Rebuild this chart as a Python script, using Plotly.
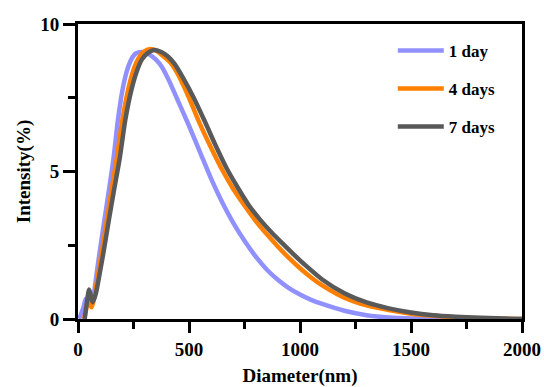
import plotly.graph_objects as go

# ---- data ----
x_1day = [5, 25, 35, 45, 57, 70, 85, 100, 120, 140, 160, 180, 200, 220, 240, 260, 290, 320, 350, 380, 410,
          450, 500, 550, 600, 650, 700, 750, 800, 850, 900, 950, 1000, 1050, 1100, 1200, 1300, 1400, 1500, 1700, 2000]
y_1day = [0, 0.4, 0.68, 0.6, 0.47, 0.8, 1.6, 2.4, 3.4, 4.4, 5.45, 6.75, 7.75, 8.4, 8.8, 9.0, 9.05, 8.97, 8.8, 8.52, 8.08,
          7.4, 6.55, 5.65, 4.75, 3.95, 3.25, 2.65, 2.12, 1.68, 1.33, 1.05, 0.83, 0.65, 0.51, 0.28, 0.13, 0.05, 0.02, 0, 0]

x_4days = [28, 37, 45, 52, 62, 75, 92, 110, 131, 152, 175, 200, 225, 248, 270, 295, 325, 355, 385, 415,
           450, 500, 550, 600, 650, 700, 750, 800, 850, 900, 950, 1000, 1050, 1100, 1200, 1300, 1400, 1500,
           1600, 1700, 1850, 2000]
y_4days = [0, 0.35, 0.6, 0.5, 0.4, 0.8, 1.6, 2.4, 3.4, 4.4, 5.45, 6.75, 7.75, 8.4, 8.8, 9.05, 9.15, 9.08, 8.9, 8.7,
           8.3, 7.5, 6.6, 5.8, 5.05, 4.4, 3.85, 3.33, 2.88, 2.46, 2.07, 1.72, 1.41, 1.14, 0.72, 0.46, 0.3, 0.18,
           0.11, 0.06, 0.02, 0]

x_7days = [30, 40, 50, 58, 66, 80, 99, 118, 140, 163, 188, 213, 240, 265, 288, 315, 342, 375, 405, 435,
           470, 520, 570, 620, 670, 720, 770, 820, 870, 920, 970, 1020, 1100, 1200, 1300, 1400, 1500,
           1600, 1700, 1850, 2000]
y_7days = [0, 0.55, 1.0, 0.78, 0.57, 0.85, 1.6, 2.4, 3.4, 4.4, 5.45, 6.75, 7.75, 8.4, 8.8, 9.02, 9.12, 9.05, 8.9, 8.65,
           8.22, 7.52, 6.72, 5.88, 5.1, 4.45, 3.85, 3.37, 2.95, 2.57, 2.2, 1.85, 1.34, 0.87, 0.56, 0.36, 0.22,
           0.13, 0.08, 0.03, 0]

series_names = ["1 day", "4 days", "7 days"]
series_colors = ["#9090FF", "#FF8000", "#595959"]

x_ticks = [0, 500, 1000, 1500, 2000]
y_ticks = [0, 5, 10]

FONT = "Liberation Serif, Times New Roman, serif"

fig = go.Figure()
for name, xs, ys, col in zip(series_names, [x_1day, x_4days, x_7days], [y_1day, y_4days, y_7days], series_colors):
    fig.add_trace(go.Scatter(x=xs, y=ys, mode="lines", name=name, legendgroup=name,
                             line=dict(color=col, width=4.5, shape="spline", smoothing=0.7)))

axis_common = dict(showgrid=False, zeroline=False, showline=True, linecolor="black", linewidth=3,
                   mirror=True, ticks="outside", tickwidth=3, tickcolor="black", automargin=False,
                   tickfont=dict(family=FONT, size=19, color="black", weight="bold"),
                   title_font=dict(family=FONT, size=19, color="black", weight="bold"))

fig.update_xaxes(range=[0, 2000], tickvals=x_ticks, ticklen=11,
                 minor=dict(dtick=250, ticklen=7, tickwidth=3, tickcolor="black", ticks="outside"),
                 title=dict(text="Diameter(nm)", standoff=12), **axis_common)
fig.update_yaxes(range=[0, 10], tickvals=y_ticks, ticklen=12,
                 minor=dict(dtick=2.5, ticklen=7, tickwidth=3, tickcolor="black", ticks="outside"),
                 title=dict(text="Intensity(%)", standoff=5), **axis_common)

fig.update_layout(
    width=544, height=387,
    margin=dict(l=78, r=22, t=24, b=68),
    plot_bgcolor="white", paper_bgcolor="white",
    showlegend=True,
    legend=dict(x=0.709, y=0.97, xanchor="left", yanchor="top", bgcolor="rgba(0,0,0,0)",
                font=dict(family=FONT, size=17, color="black", weight="bold"),
                itemwidth=46, tracegroupgap=13, traceorder="grouped"),
)

fig.write_html("out.html")
